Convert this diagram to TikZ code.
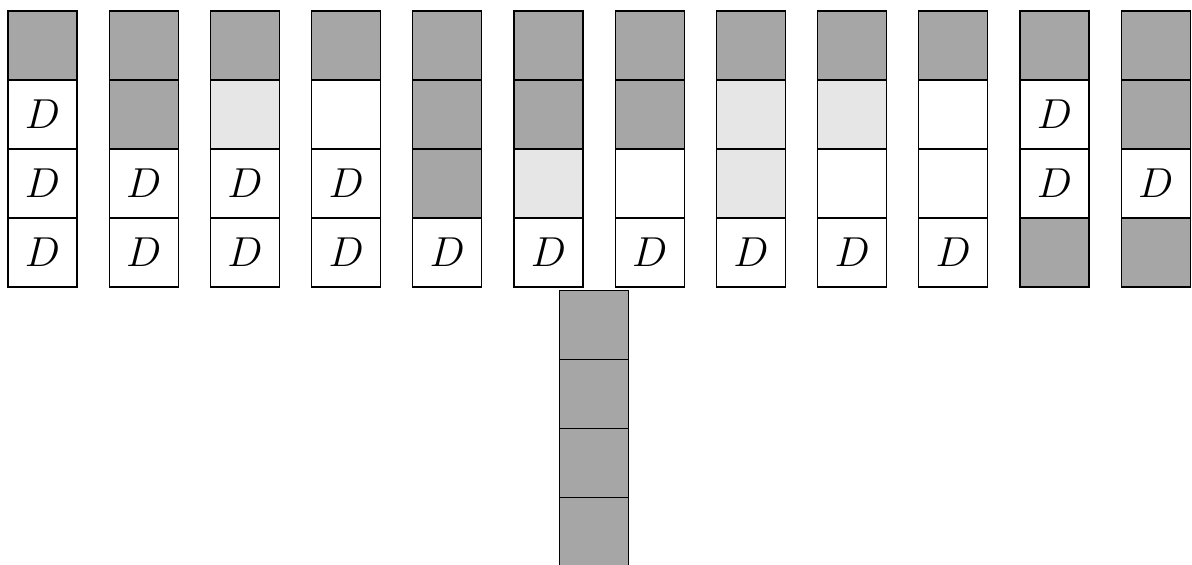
\documentclass[tikz,border=0pt]{standalone}
\usepackage{tikz}
\definecolor{darkcell}{HTML}{A6A6A6}
\definecolor{lightcell}{HTML}{E6E6E6}
\tikzset{
  cellbox/.style={draw=black, line width=0.45pt, minimum width=1cm, minimum height=1cm, inner sep=0pt, font=\LARGE},
  cellG/.style={cellbox, fill=darkcell},
  cellL/.style={cellbox, fill=lightcell},
  cellW/.style={cellbox, fill=white},
  cellD/.style={cellbox, fill=white},
}
\def\txtG{}\def\txtL{}\def\txtW{}\def\txtD{$D$}
\begin{document}
\begin{tikzpicture}[x=0.0144928cm, y=-0.0144928cm]
\useasboundingbox (0,0) rectangle (1192,565);
\foreach \i/\pat in {1/{G,D,D,D},2/{G,G,D,D},3/{G,L,D,D},4/{G,W,D,D},5/{G,G,G,D},6/{G,G,L,D},7/{G,G,W,D},8/{G,L,L,D},9/{G,L,W,D},10/{G,W,W,D},11/{G,D,D,G},12/{G,G,D,G}}{
  \foreach \c [count=\j] in \pat {
    \node[cell\c] (c-\i-\j) at ({42.5+101.2*(\i-1)},{45.5+69*(\j-1)}) {\csname txt\c\endcsname};
  }
}
\foreach \j in {1,2,3,4}{
  \node[cellG] (b-\j) at (593.8,{325.2+69*(\j-1)}) {};
}
\end{tikzpicture}
\end{document}
